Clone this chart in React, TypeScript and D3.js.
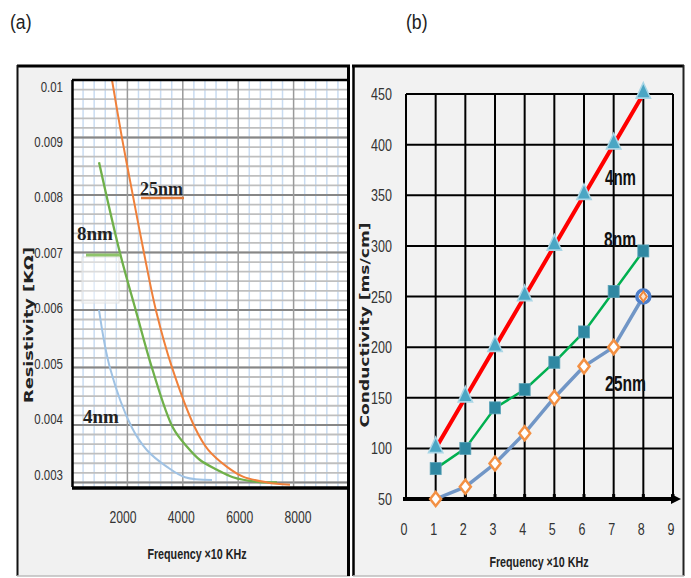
import React from 'react';
import * as d3 from 'd3';

// ---- Panel (a): resistivity vs frequency ----
const resistivityTicks = [0.01, 0.009, 0.008, 0.007, 0.006, 0.005, 0.004, 0.003];
const resistivityLabels = ['0.01', '0.009', '0.008', '0.007', '0.006', '0.005', '0.004', '0.003'];
const freqTicksA = [2000, 4000, 6000, 8000];

const res25nm: [number, number][] = [
  [1444, 0.01], [1805, 0.00899], [2202, 0.00798], [2599, 0.00699], [3032, 0.00599],
  [3610, 0.005], [4440, 0.00395], [4910, 0.00357], [5596, 0.00327],
  [6173, 0.0031], [7040, 0.003], [7870, 0.00296],
];
const res8nm: [number, number][] = [
  [975, 0.00857], [1733, 0.00699], [2310, 0.00598], [2888, 0.00499],
  [3646, 0.00395], [4152, 0.00362], [4621, 0.00339], [5235, 0.00322],
  [5812, 0.00309], [6679, 0.00301], [7401, 0.003],
];
const res4nm: [number, number][] = [
  [975, 0.006], [1372, 0.00499], [2166, 0.00395], [2708, 0.00356],
  [3430, 0.00327], [4079, 0.00309], [5054, 0.00304],
];

// ---- Panel (b): conductivity vs frequency ----
const freqSteps = [1, 2, 3, 4, 5, 6, 7, 8];
const cond4nm = [100, 150, 200, 250, 300, 350, 400, 450];
const cond8nm = [80, 100, 140, 158, 185, 215, 255, 295];
const cond25nm = [50, 62, 85, 115, 150, 181, 200, 250];
const condTicks = [50, 100, 150, 200, 250, 300, 350, 400, 450];
const freqTicksB = [0, 1, 2, 3, 4, 5, 6, 7, 8, 9];

const SANS = "'Liberation Sans', Arial, sans-serif";
const SERIF = "'Liberation Serif', 'Times New Roman', serif";

// Text squeezed horizontally to get a narrow face from a regular one
function NText(props: {
  x: number; y: number; size: number; sx?: number; anchor?: 'start' | 'middle' | 'end';
  weight?: string; rotate?: number; fill?: string; children: React.ReactNode;
}) {
  const { x, y, size, sx = 0.8, anchor = 'start', weight = 'normal', rotate = 0, fill = '#333' } = props;
  return (
    <text transform={`translate(${x},${y}) rotate(${rotate}) scale(${sx},1)`} textAnchor={anchor}
      fontFamily={SANS} fontSize={size} fontWeight={weight} fill={fill}>
      {props.children}
    </text>
  );
}

function PanelA() {
  const x = d3.scaleLinear().domain([0, 10000]).range([72, 349]);
  const y = d3.scaleLinear().domain([0.00292, 0.01]).range([487, 80]);
  // tick labels sit on a slightly different spacing than the grid
  const yLab = d3.scaleLinear().domain([0.01, 0.003]).range([86, 474]);
  const xLab = d3.scaleLinear().domain([2000, 8000]).range([123, 298]);

  const [x0, x1] = x.range();
  const [yb, yt] = y.range();

  const minorH = d3.range(0, 43).map((i) => 0.003 + (i * 0.001) / 6).filter((v) => v <= 0.01 + 1e-9);
  const minorV = d3.range(0, 10001, 400).filter((v) => v % 2000 !== 0);
  const majorV = d3.range(2000, 10000, 2000);

  const line = d3
    .line<[number, number]>()
    .x((d) => x(d[0]))
    .y((d) => y(d[1]))
    .curve(d3.curveCatmullRom.alpha(0.5));

  return (
    <g>
      {/* outer frame */}
      <rect x={17} y={65} width={332} height={511} fill="#f1f1f1" stroke="none" />
      <line x1={17} x2={350} y1={66} y2={66} stroke="#000" strokeWidth={3} />
      <line x1={17.5} x2={17.5} y1={65} y2={576} stroke="#111" strokeWidth={2} />
      <line x1={17} x2={350} y1={576} y2={576} stroke="#bdbdbd" strokeWidth={1.5} />

      {/* plot area */}
      <rect x={x0} y={yt} width={x1 - x0} height={yb - yt} fill="#fff" />
      {minorV.map((v) => (
        <line key={'mv' + v} x1={x(v)} x2={x(v)} y1={yt} y2={yb} stroke="#c9dcf2" strokeWidth={1.5} />
      ))}
      {minorH.map((v, i) => (
        <line key={'mh' + i} x1={x0} x2={x1} y1={y(v)} y2={y(v)} stroke="#bfbfbf" strokeWidth={1.8} />
      ))}
      {resistivityTicks.map((v) => (
        <line key={'gh' + v} x1={x0} x2={x1} y1={y(v)} y2={y(v)} stroke="#878787" strokeWidth={2} />
      ))}
      {majorV.map((v) => (
        <line key={'gv' + v} x1={x(v)} x2={x(v)} y1={yt} y2={yb} stroke="#9a9a9a" strokeWidth={1.5} />
      ))}

      {/* faded patch under the 8nm key */}
      <rect x={82} y={257} width={37} height={46} fill="#fff" fillOpacity={0.45} stroke="#e2e2e2" strokeWidth={1} />

      {/* curves */}
      <path d={line(res4nm) ?? ''} fill="none" stroke="#9fc2e4" strokeWidth={2} />
      <path d={line(res8nm) ?? ''} fill="none" stroke="#6fb04a" strokeWidth={2.3} />
      <path d={line(res25nm) ?? ''} fill="none" stroke="#f0803a" strokeWidth={2} />

      {/* plot borders */}
      <line x1={x0} x2={x1} y1={yt} y2={yt} stroke="#000" strokeWidth={2.5} />
      <line x1={x0 + 0.5} x2={x0 + 0.5} y1={yt} y2={yb} stroke="#000" strokeWidth={2.5} />
      <line x1={x1 - 0.5} x2={x1 - 0.5} y1={65} y2={576} stroke="#000" strokeWidth={3} />
      <line x1={x0} x2={x1} y1={yb + 1} y2={yb + 1} stroke="#000" strokeWidth={3.5} />

      {/* series labels */}
      <text x={140} y={195} fontFamily={SERIF} fontWeight="bold" fontSize={18} fill="#222">25nm</text>
      <line x1={141} x2={184} y1={198} y2={198} stroke="#e07a3a" strokeWidth={2.5} />
      <text x={77} y={240} fontFamily={SERIF} fontWeight="bold" fontSize={19} fill="#222">8nm</text>
      <line x1={86} x2={120} y1={255} y2={255} stroke="#8fc46a" strokeWidth={3} />
      <text x={83} y={423} fontFamily={SERIF} fontWeight="bold" fontSize={19} fill="#222">4nm</text>

      {/* tick labels */}
      {resistivityTicks.map((v, i) => (
        <NText key={'yl' + v} x={63} y={yLab(v) + 5.5} anchor="end" size={15.5} sx={0.74}>
          {resistivityLabels[i]}
        </NText>
      ))}
      {freqTicksA.map((v) => (
        <NText key={'xl' + v} x={xLab(v)} y={523} anchor="middle" size={16} sx={0.76}>{v}</NText>
      ))}

      {/* axis titles */}
      <text transform="translate(28,325) rotate(-90)" textAnchor="middle" dominantBaseline="central"
        fontFamily="'DejaVu Sans', sans-serif" fontWeight="bold" fontSize={13} fill="#222"
        textLength={156} lengthAdjust="spacingAndGlyphs">Resistivity [KΩ]</text>
      <NText x={197} y={559} anchor="middle" size={14.5} sx={0.74} weight="bold" fill="#222">
        Frequency ×10 KHz
      </NText>
    </g>
  );
}

function PanelB() {
  const x = d3.scaleLinear().domain([0, 9]).range([406, 673]);
  const y = d3.scaleLinear().domain([50, 450]).range([499, 94]);
  const [x0, x1] = x.range();
  const [yb, yt] = y.range();

  const line = d3
    .line<number>()
    .x((_, i) => x(freqSteps[i]))
    .y((d) => y(d));

  const tri = d3.symbol().type(d3.symbolTriangle).size(90)();
  const diamond = (cx: number, cy: number, w: number, h: number) =>
    `M${cx},${cy - h / 2}L${cx + w / 2},${cy}L${cx},${cy + h / 2}L${cx - w / 2},${cy}Z`;

  return (
    <g>
      {/* outer frame */}
      <rect x={353} y={65} width={330} height={511} fill="#f2f2f2" />
      <line x1={352} x2={684} y1={66} y2={66} stroke="#000" strokeWidth={3} />
      <line x1={353.5} x2={353.5} y1={65} y2={576} stroke="#000" strokeWidth={2.5} />
      <line x1={683.5} x2={683.5} y1={65} y2={576} stroke="#222" strokeWidth={2} />
      <line x1={353} x2={684} y1={576} y2={576} stroke="#bdbdbd" strokeWidth={1.5} />

      {/* grid */}
      {condTicks.filter((v) => v > 50).map((v) => (
        <line key={'gh' + v} x1={x0} x2={x1} y1={y(v)} y2={y(v)} stroke="#000" strokeWidth={2} />
      ))}
      {freqTicksB.map((v) => (
        <line key={'gv' + v} x1={x(v)} x2={x(v)} y1={yt} y2={yb} stroke="#000" strokeWidth={2} />
      ))}
      {freqTicksB.slice(1).map((v) => (
        <rect key={'tk' + v} x={x(v) - 1.5} y={yb - 5} width={3} height={5} fill="#000" />
      ))}

      {/* x axis with arrow */}
      <line x1={x0 - 3} x2={x1} y1={yb} y2={yb} stroke="#000" strokeWidth={4} />
      <path d={`M${x1 - 2},${yb - 5}L${x1 + 8},${yb}L${x1 - 2},${yb + 5}Z`} fill="#000" />

      {/* series */}
      <path d={line(cond25nm) ?? ''} fill="none" stroke="#7196c6" strokeWidth={3.5} />
      <path d={line(cond8nm) ?? ''} fill="none" stroke="#00b050" strokeWidth={2.5} />
      <path d={line(cond4nm) ?? ''} fill="none" stroke="#ff0000" strokeWidth={4} />

      {cond4nm.map((v, i) => (
        <path key={'t' + i} d={tri ?? ''} transform={`translate(${x(freqSteps[i])},${y(v) - 1}) scale(1,1.25)`}
          fill="#4ba6c4" stroke="#a9d6e6" strokeWidth={1.4} />
      ))}
      {cond8nm.map((v, i) => (
        <rect key={'s' + i} x={x(freqSteps[i]) - 5.5} y={y(v) - 6} width={11} height={12}
          fill="#2f88a2" stroke="#5aa3b8" strokeWidth={0.8} />
      ))}
      {cond25nm.map((v, i) =>
        i === cond25nm.length - 1 ? (
          <g key={'d' + i}>
            <circle cx={x(freqSteps[i])} cy={y(v)} r={6.5} fill="#fff" stroke="#4f7fcb" strokeWidth={3.5} />
            <path d={diamond(x(freqSteps[i]), y(v), 7, 10)} fill="#fbe3cf" stroke="#f0883c" strokeWidth={2} />
          </g>
        ) : (
          <path key={'d' + i} d={diamond(x(freqSteps[i]), y(v), 11, 14)} fill="#fff" stroke="#f39043" strokeWidth={2.5} />
        )
      )}

      {/* series labels */}
      <text x={605} y={185} fontFamily={SANS} fontWeight="bold" fontSize={22} fill="#111"
        textLength={31} lengthAdjust="spacingAndGlyphs">4nm</text>
      <text x={604} y={247} fontFamily={SANS} fontWeight="bold" fontSize={22} fill="#111"
        textLength={32} lengthAdjust="spacingAndGlyphs">8nm</text>
      <text x={605} y={391} fontFamily={SANS} fontWeight="bold" fontSize={22} fill="#111"
        textLength={41} lengthAdjust="spacingAndGlyphs">25nm</text>

      {/* tick labels */}
      {condTicks.map((v) => (
        <NText key={'yl' + v} x={392} y={y(v) + 6} anchor="end" size={16.5} sx={0.76}>{v}</NText>
      ))}
      {freqTicksB.map((v) => (
        <NText key={'xl' + v} x={x(v) - 2} y={535} anchor="middle" size={16.5} sx={0.76}>{v}</NText>
      ))}

      {/* axis titles */}
      <text transform="translate(364,325) rotate(-90)" textAnchor="middle" dominantBaseline="central"
        fontFamily="'DejaVu Sans', sans-serif" fontWeight="bold" fontSize={13} fill="#222"
        textLength={205} lengthAdjust="spacingAndGlyphs">Conductivity [ms/cm]</text>
      <NText x={539} y={567} anchor="middle" size={14.5} sx={0.74} weight="bold" fill="#222">
        Frequency ×10 KHz
      </NText>
    </g>
  );
}

export default function App() {
  return (
    <svg width={691} height={578} viewBox="0 0 691 578"
      style={{ position: 'absolute', left: 0, top: 0, background: '#fff' }}>
      <rect x={0} y={0} width={691} height={578} fill="#fff" />
      <NText x={10} y={29} size={21} sx={0.84} fill="#222">(a)</NText>
      <NText x={406} y={29} size={21} sx={0.84} fill="#222">(b)</NText>
      <PanelA />
      <PanelB />
    </svg>
  );
}
